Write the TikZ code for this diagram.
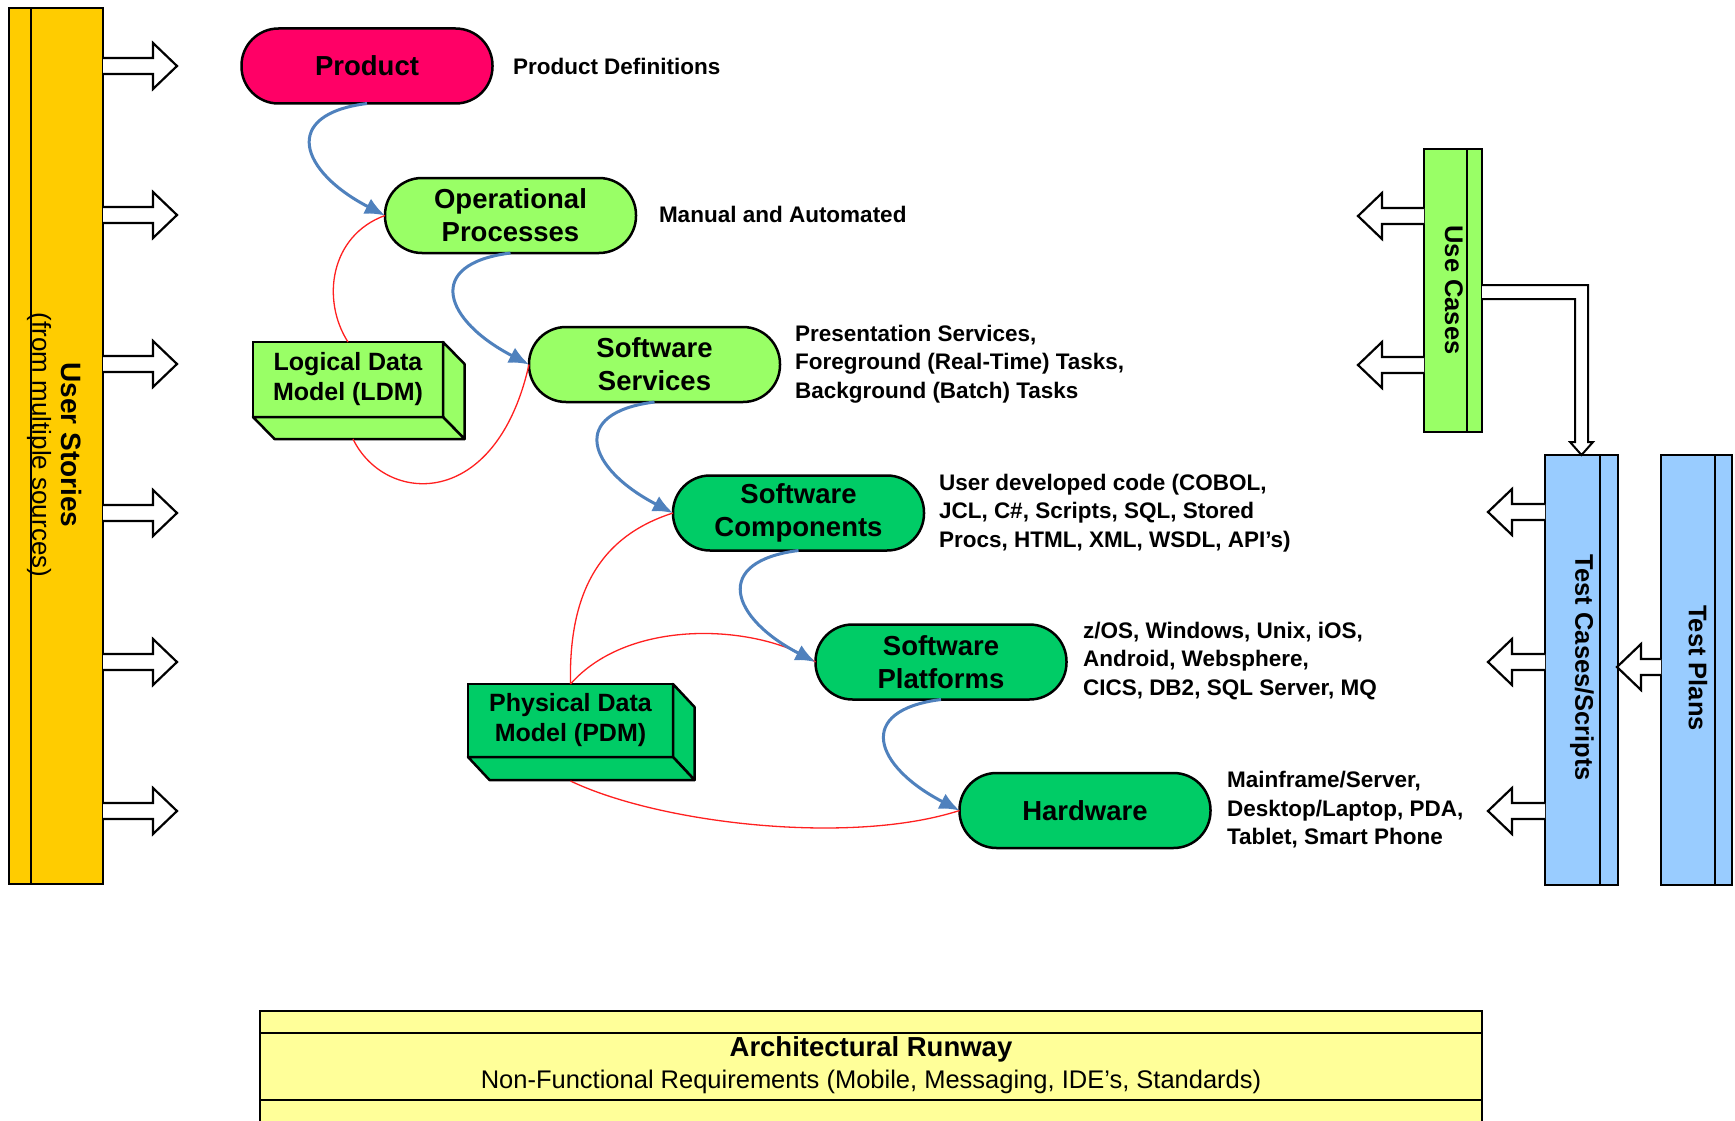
\documentclass[tikz,border=0pt]{standalone}
\usepackage{fontspec}
\setmainfont{Liberation Sans}
\usetikzlibrary{arrows.meta,calc}
\definecolor{prodc}{HTML}{FF0066}
\definecolor{lgreen}{HTML}{99FF66}
\definecolor{dgreen}{HTML}{00CC66}
\definecolor{usgold}{HTML}{FFCC00}
\definecolor{lblue}{HTML}{99CCFF}
\definecolor{lyellow}{HTML}{FFFF99}
\definecolor{flowblue}{HTML}{4F81BD}
\definecolor{relred}{HTML}{FF2020}
\begin{document}
\begin{tikzpicture}[x=1pt,y=-1pt,
  every node/.style={inner sep=0pt, outer sep=0pt},
  proc/.style={draw, line width=2.5pt, rounded corners=37pt, minimum width=251pt, minimum height=75pt, align=center, font=\fontsize{27.5}{33}\selectfont\bfseries},
  lbl/.style={anchor=west, align=left, font=\fontsize{22.5}{28.5}\selectfont\bfseries},
  boxf/.style={draw, line width=2.5pt, align=center, font=\fontsize{25}{30}\selectfont\bfseries},
  face/.style={draw, line width=2.5pt, line join=round},
  flow/.style={draw=flowblue, line width=3pt, -{Latex[length=20pt,width=17pt]}},
  rel/.style={draw=relred, line width=1.3pt},
  bar/.style={draw, line width=2pt},
  blk/.style={draw, fill=white, line width=2.2pt, line join=miter},
  vtext/.style={rotate=-90, font=\fontsize{25.5}{30}\selectfont\bfseries},
  pics/barrow/.style={code={\path[blk] (0,-8) -- (#1,-8) -- (#1,-23) -- ({#1+24},0) -- (#1,23) -- (#1,8) -- (0,8);}}
]
\useasboundingbox (0,0) rectangle (1735,1121);
\clip (0,0) rectangle (1735,1121);
\fill[white] (0,0) rectangle (1735,1121);

% ---------- left bar ----------
\node[bar, fill=usgold, minimum width=94pt, minimum height=876pt] (us) at (56,446) {};
\draw[bar] ($(us.north west)+(22,0)$) -- ($(us.south west)+(22,0)$);
\node[vtext, font=\fontsize{28}{30}\selectfont\bfseries] (ust) at (72,445) {User Stories};
\node[rotate=-90, font=\fontsize{26}{30}\selectfont] (usub) at (39,445) {(from multiple sources)};
\foreach \yy in {66,215,364,513,662,811}
  \pic at (us.east |- 0,\yy) {barrow=50};

% ---------- process nodes ----------
\node[proc, fill=prodc]  (prod) at (367,66)      {Product};
\node[proc, fill=lgreen] (ops)  at (510.5,215.5) {Operational\\Processes};
\node[proc, fill=lgreen] (ss)   at (654.5,364.5) {Software\\Services};
\node[proc, fill=dgreen] (sc)   at (798.5,513)   {Software\\Components};
\node[proc, fill=dgreen] (sp)   at (941,662)     {Software\\Platforms};
\node[proc, fill=dgreen] (hw)   at (1085,810.5)  {Hardware};

% ---------- labels ----------
\node[lbl] (l1) at (513,66)   {Product Definitions};
\node[lbl] (l2) at (659,214)  {Manual and Automated};
\node[lbl] (l3) at (795,364)  {Presentation Services,\\Foreground (Real-Time) Tasks,\\Background (Batch) Tasks};
\node[lbl] (l4) at (939,513)  {User developed code (COBOL,\\JCL, C\#, Scripts, SQL, Stored\\Procs, HTML, XML, WSDL, API’s)};
\node[lbl] (l5) at (1083,661) {z/OS, Windows, Unix, iOS,\\Android, Websphere,\\CICS, DB2, SQL Server, MQ};
\node[lbl] (l6) at (1227,810) {Mainframe/Server,\\Desktop/Laptop, PDA,\\Tablet, Smart Phone};

% ---------- data models (3D boxes) ----------
\node[boxf, fill=lgreen, minimum width=190pt, minimum height=75pt] (ldm) at (348,379.5) {Logical Data\\Model (LDM)};
\path[face, fill=lgreen] (ldm.north east) -- ++(21.5,22) -- ++(0,75) -- (ldm.south east) -- cycle;
\path[face, fill=lgreen] (ldm.south west) -- ++(21.5,22) -- ($(ldm.south east)+(21.5,22)$) -- (ldm.south east) -- cycle;

\node[boxf, fill=dgreen, minimum width=205pt, minimum height=73pt] (pdm) at (570.5,720.5) {Physical Data\\Model (PDM)};
\path[face, fill=dgreen] (pdm.north east) -- ++(21.5,23) -- ++(0,73) -- (pdm.south east) -- cycle;
\path[face, fill=dgreen] (pdm.south west) -- ++(21.5,23) -- ($(pdm.south east)+(21.5,23)$) -- (pdm.south east) -- cycle;

% ---------- red relations ----------
\draw[rel] (ops.west) .. controls +(-55,20) and +(-27,-42) .. (ldm.north);
\draw[rel] ($(ldm.south)+(5,22)$) .. controls +(32,66) and +(-33,147) .. (ss.west);
\draw[rel] (pdm.north) .. controls +(-2,-93) and +(-72,23) .. (sc.west);
\draw[rel] (pdm.north) .. controls +(60,-68) and +(-55,-37) .. (sp.west);
\draw[rel] ($(pdm.south)+(0,24)$) .. controls +(90,43) and +(-108,35) .. (hw.west);

% ---------- blue flow ----------
\draw[flow] (prod.south) .. controls +(-87,11) and +(-85,-44) .. (ops.west);
\draw[flow] (ops.south)  .. controls +(-87,11) and +(-85,-44) .. (ss.west);
\draw[flow] (ss.south)   .. controls +(-87,11) and +(-85,-44) .. (sc.west);
\draw[flow] (sc.south)   .. controls +(-87,11) and +(-85,-44) .. (sp.west);
\draw[flow] (sp.south)   .. controls +(-87,11) and +(-85,-44) .. (hw.west);

% ---------- right side ----------
\node[bar, fill=lgreen, minimum width=58pt, minimum height=283pt] (uc) at (1453,290.5) {};
\draw[bar] ($(uc.north east)+(-15,0)$) -- ($(uc.south east)+(-15,0)$);
\node[vtext] (uct) at (1454,290) {Use Cases};

\node[bar, fill=lblue, minimum width=73pt, minimum height=430pt] (tc) at (1581.5,670) {};
\draw[bar] ($(tc.north east)+(-18,0)$) -- ($(tc.south east)+(-18,0)$);
\node[vtext] (tct) at (1582,668) {Test Cases/Scripts};

\node[bar, fill=lblue, minimum width=71pt, minimum height=430pt] (tp) at (1696.5,670) {};
\draw[bar] ($(tp.north east)+(-17,0)$) -- ($(tp.south east)+(-17,0)$);
\node[vtext] (tpt) at (1698,668) {Test Plans};

\foreach \yy in {216,365}
  \pic[xscale=-1] at (uc.west |- 0,\yy) {barrow=42};
\foreach \yy in {512,662,811}
  \pic[xscale=-1] at (tc.west |- 0,\yy) {barrow=33};
\pic[xscale=-1] at (tp.west |- 0,667) {barrow=20};

\path[blk, line width=2pt] ($(uc.east)+(0,-5.5)$) -- ++(106,0) -- ($(tc.north)+(6.5,-13)$) -- ++(5,0) -- (tc.north) -- ++(-11.5,-13) -- ++(5,0) -- ($(uc.east)+(93,8.5)$) -- ($(uc.east)+(0,8.5)$);

% ---------- runway ----------
\node[bar, fill=lyellow, minimum width=1222pt, minimum height=140pt, anchor=north west] (rw) at (260,1011) {};
\draw[bar] ($(rw.north west)+(0,22)$) -- ($(rw.north east)+(0,22)$);
\draw[bar] ($(rw.north west)+(0,89)$) -- ($(rw.north east)+(0,89)$);
\node[font=\fontsize{27.5}{30}\selectfont\bfseries] (rwt) at (871,1049) {Architectural Runway};
\node[font=\fontsize{25.5}{30}\selectfont] (rws) at (871,1082) {Non-Functional Requirements (Mobile, Messaging, IDE’s, Standards)};
\end{tikzpicture}
\end{document}
